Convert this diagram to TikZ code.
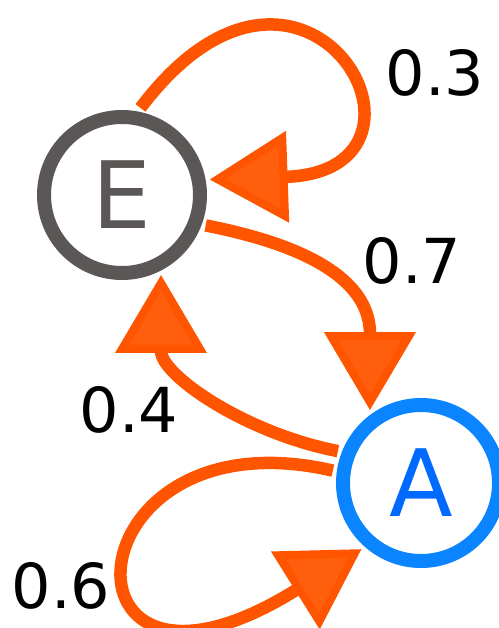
\documentclass[tikz,border=0pt]{standalone}
\usepackage{fontspec}
\setmainfont{DejaVu Sans}
\usepackage{tikz}
\usetikzlibrary{arrows.meta}
\usepackage{xcolor}
\pgfdeclarelayer{bg}
\pgfsetlayers{bg,main}

\definecolor{edgeorange}{HTML}{FF5500}
\definecolor{tipfill}{HTML}{FF5E0C}
\definecolor{stategray}{HTML}{5B5757}
\definecolor{stateblue}{HTML}{0A84FF}
\definecolor{letterblue}{HTML}{006AFF}

\begin{document}
\begin{tikzpicture}[
  x=1pt, y=1pt,
  state/.style={circle, line width=14pt, minimum size=156pt, inner sep=0pt,
    outer sep=11pt, font=\fontsize{93}{93}\selectfont},
  trans/.style={draw=edgeorange, line width=12.5pt,
    -{Triangle[length=78pt, width=90pt, fill=tipfill, line width=8pt]}},
  prob/.style={font=\fontsize{62}{62}\selectfont, inner sep=0pt},
]
  \useasboundingbox (0,0) rectangle (498,-628);

  \node[state, draw=stategray, text=stategray] (E) at (122,-195) {E};
  \node[state, draw=stateblue, text=letterblue] (A) at (421,-483) {A};

  \node[prob] (p03) at (435,-73) {0.3};
  \node[prob] (p07) at (412,-261) {0.7};
  \node[prob] (p04) at (129,-410) {0.4};
  \node[prob] (p06) at (61,-586) {0.6};

  \begin{pgfonlayer}{bg}
    \draw[trans]
      (E.78) .. controls +(53:275) and +(2:255) .. (E.10);
    \draw[trans]
      (E.-20) .. controls +(-11:150) and +(90:105) .. (A.125);
    \draw[trans]
      (A.159) .. controls +(169:95) and +(-90:100) .. (E.-64);
    \draw[trans]
      (A.172) .. controls +(167:275) and +(212:370) .. (A.228);
  \end{pgfonlayer}
\end{tikzpicture}
\end{document}
